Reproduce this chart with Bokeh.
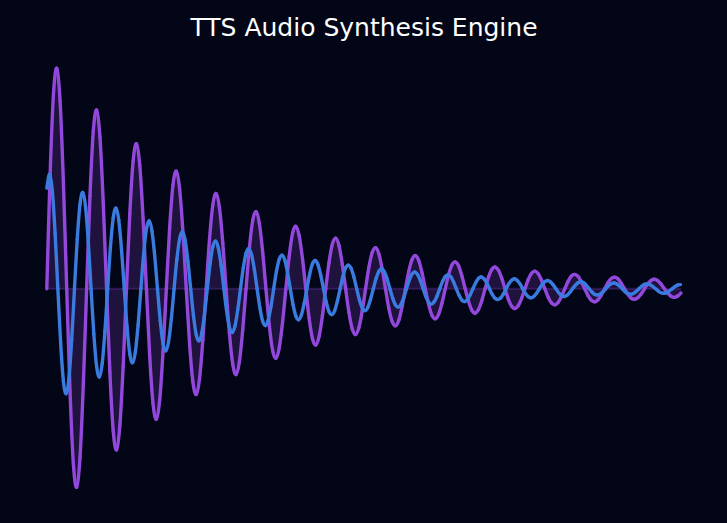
from bokeh.plotting import figure
from bokeh.models import Range1d, Label
from bokeh.embed import file_html
from bokeh.resources import INLINE

# ---- data (time in ms, amplitude normalised) ----
TITLE = "TTS Audio Synthesis Engine"
PURPLE_STEP_MS = 6   # sample spacing of the purple voice
BLUE_STEP_MS = 5     # sample spacing of the blue voice

purple_wave = [
    0, 0.491, 0.836, 0.949, 0.808, 0.458, 0, -0.442, -0.753, -0.854, -0.727, -0.412,
    0, 0.398, 0.678, 0.769, 0.655, 0.371, 0, -0.359, -0.610, -0.693, -0.589, -0.334,
    0, 0.323, 0.550, 0.624, 0.531, 0.301, 0, -0.291, -0.495, -0.561, -0.478, -0.271,
    0, 0.262, 0.446, 0.506, 0.430, 0.244, 0, -0.236, -0.401, -0.455, -0.387, -0.220,
    0, 0.212, 0.361, 0.410, 0.349, 0.198, 0, -0.191, -0.325, -0.369, -0.314, -0.178,
    0, 0.172, 0.293, 0.332, 0.283, 0.160, 0, -0.155, -0.264, -0.299, -0.255, -0.144,
    0, 0.139, 0.237, 0.269, 0.229, 0.130, 0, -0.126, -0.214, -0.242, -0.206, -0.117,
    0, 0.113, 0.192, 0.218, 0.186, 0.105, 0, -0.102, -0.173, -0.197, -0.167, -0.095,
    0, 0.092, 0.156, 0.177, 0.151, 0.085, 0, -0.083, -0.140, -0.159, -0.136, -0.077,
    0, 0.074, 0.126, 0.143, 0.122, 0.069, 0, -0.067, -0.114, -0.129, -0.110, -0.062,
    0, 0.060, 0.102, 0.116, 0.099, 0.056, 0, -0.054, -0.092, -0.105, -0.089, -0.051,
    0, 0.049, 0.083, 0.094, 0.080, 0.046, 0, -0.044, -0.075, -0.085, -0.072, -0.041,
    0, 0.040, 0.067, 0.076, 0.065, 0.037, 0, -0.036, -0.061, -0.069, -0.059, -0.033,
    0, 0.032, 0.055, 0.062, 0.053, 0.030, 0, -0.029, -0.049, -0.056, -0.047, -0.027,
    0, 0.026, 0.044, 0.050, 0.043, 0.024, 0, -0.023, -0.040, -0.045, -0.038, -0.022,
    0, 0.021, 0.036, 0.041, 0.035, 0.020, 0, -0.019, -0.032, -0.037, -0.031, -0.018,
]

blue_wave = [
    0.433, 0.493, 0.421, 0.239, 0, -0.232, -0.397, -0.451, -0.385, -0.219, 0, 0.213,
    0.364, 0.414, 0.353, 0.201, 0, -0.195, -0.333, -0.379, -0.323, -0.184, 0, 0.179,
    0.305, 0.347, 0.296, 0.169, 0, -0.164, -0.280, -0.318, -0.272, -0.155, 0, 0.150,
    0.256, 0.292, 0.249, 0.142, 0, -0.138, -0.235, -0.267, -0.228, -0.130, 0, 0.126,
    0.215, 0.245, 0.209, 0.119, 0, -0.115, -0.197, -0.224, -0.191, -0.109, 0, 0.106,
    0.181, 0.205, 0.175, 0.100, 0, -0.097, -0.165, -0.188, -0.161, -0.091, 0, 0.089,
    0.152, 0.172, 0.147, 0.084, 0, -0.081, -0.139, -0.158, -0.135, -0.077, 0, 0.075,
    0.127, 0.145, 0.124, 0.070, 0, -0.068, -0.117, -0.133, -0.113, -0.064, 0, 0.063,
    0.107, 0.122, 0.104, 0.059, 0, -0.057, -0.098, -0.111, -0.095, -0.054, 0, 0.053,
    0.090, 0.102, 0.087, 0.050, 0, -0.048, -0.082, -0.094, -0.080, -0.045, 0, 0.044,
    0.075, 0.086, 0.073, 0.042, 0, -0.040, -0.069, -0.079, -0.067, -0.038, 0, 0.037,
    0.063, 0.072, 0.061, 0.035, 0, -0.034, -0.058, -0.066, -0.056, -0.032, 0, 0.031,
    0.053, 0.060, 0.052, 0.029, 0, -0.028, -0.049, -0.055, -0.047, -0.027, 0, 0.026,
    0.045, 0.051, 0.043, 0.025, 0, -0.024, -0.041, -0.046, -0.040, -0.023, 0, 0.022,
    0.037, 0.043, 0.036, 0.021, 0, -0.020, -0.034, -0.039, -0.033, -0.019, 0, 0.018,
    0.031, 0.036, 0.030, 0.017, 0, -0.017, -0.029, -0.033, -0.028, -0.016, 0, 0.015,
    0.026, 0.030, 0.026, 0.015, 0, -0.014, -0.024, -0.027, -0.023, -0.013, 0, 0.013,
    0.022, 0.025, 0.021, 0.012, 0, -0.012, -0.020, -0.023, -0.020, -0.011, 0, 0.011,
    0.019, 0.021, 0.018, 0.010, 0, -0.010, -0.017, -0.019, -0.017, -0.009, 0, 0.009,
    0.016, 0.018,
]

purple_t = [i * PURPLE_STEP_MS for i in range(len(purple_wave))]
blue_t = [i * BLUE_STEP_MS for i in range(len(blue_wave))]

# ---- styling ----
BG = "#030616"
PURPLE = "#9348DC"
BLUE = "#3A7BDF"


def smooth_segments(xs, ys):
    """Catmull-Rom handles so the library's bezier glyph passes through every sample."""
    n = len(xs)
    seg = {k: [] for k in ("x0", "y0", "x1", "y1", "cx0", "cy0", "cx1", "cy1")}
    for i in range(n - 1):
        a = max(i - 1, 0)
        d = min(i + 2, n - 1)
        seg["x0"].append(xs[i]); seg["y0"].append(ys[i])
        seg["x1"].append(xs[i + 1]); seg["y1"].append(ys[i + 1])
        seg["cx0"].append(xs[i] + (xs[i + 1] - xs[a]) / 6.0)
        seg["cy0"].append(ys[i] + (ys[i + 1] - ys[a]) / 6.0)
        seg["cx1"].append(xs[i + 1] - (xs[d] - xs[i]) / 6.0)
        seg["cy1"].append(ys[i + 1] - (ys[d] - ys[i]) / 6.0)
    return seg


X_START, X_END = -83.66, 1230.03
Y_START, Y_END = -1.0099, 1.2405

p = figure(
    width=727, height=523,
    output_backend="svg", toolbar_location=None,
    x_range=Range1d(X_START, X_END), y_range=Range1d(Y_START, Y_END),
    x_axis_location=None, y_axis_location=None,
    min_border=0,
    background_fill_color=BG, border_fill_color=BG,
)
# paint the frame edge in the background colour so no light seam shows
p.outline_line_color = BG
p.outline_line_width = 4
p.grid.grid_line_color = None

# shaded area under the purple voice
p.varea(x=purple_t, y1=0, y2=purple_wave, fill_color=PURPLE, fill_alpha=0.2)
# faint zero baseline
p.line(x=[purple_t[0], purple_t[-1]], y=[0, 0], line_color=PURPLE, line_alpha=0.25, line_width=2)

# the two voices, drawn as smooth curves through the samples
p.bezier(line_color=PURPLE, line_width=3.4, line_cap="round",
         **smooth_segments(purple_t, purple_wave))
p.bezier(line_color=BLUE, line_width=3.4, line_cap="round",
         **smooth_segments(blue_t, blue_wave))

# chart title
p.add_layout(Label(
    x=(X_START + X_END) / 2, y=1.123, text=TITLE,
    text_align="center", text_baseline="alphabetic",
    text_color="#ffffff", text_font="DejaVu Sans", text_font_size="25px",
))

html = file_html(p, INLINE, title=TITLE)
html = html.replace(
    "<body>",
    '<body style="margin:0;overflow:hidden;background-color:%s;">' % BG, 1)
open("out.html", "w").write(html)
